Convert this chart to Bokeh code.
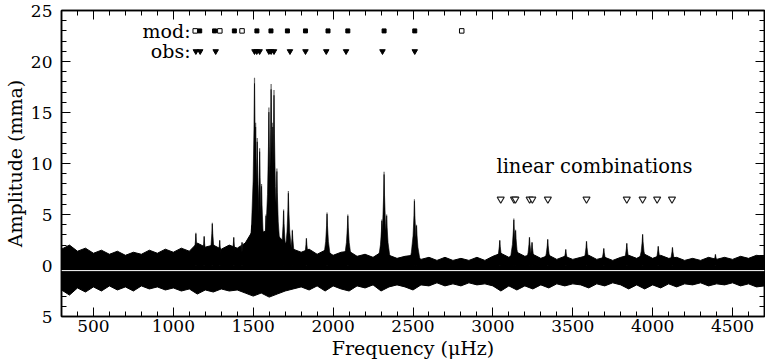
from bokeh.plotting import figure
from bokeh.models import (Range1d, LinearAxis, SingleIntervalTicker, Label, Span,
                          CustomJSTickFormatter)
from bokeh.embed import file_html
from bokeh.resources import INLINE

# ---------------- data ----------------
freq_grid = list(range(300, 4701, 50))
noise_top = [1.6, 2.0, 1.4, 1.7, 1.2, 1.5, 1.1, 1.4, 1.0, 1.3, 1.1, 1.5, 1.2, 1.6,
             1.3, 1.7, 1.4, 2.2, 1.8, 2.0, 1.6, 2.0, 1.7, 2.2, 3.5, 3.2, 3.5, 3.0, 2.2, 1.6, 1.3, 1.6, 1.1, 1.5,
             1.0, 1.3, 1.4, 0.9, 1.1, 0.8, 1.3, 1.0, 0.7, 0.9, 1.0, 0.6, 0.8, 0.5, 0.8, 0.5, 0.7, 0.5, 0.8, 0.5,
             0.9, 1.2, 0.8, 1.3, 0.9, 1.1, 0.7, 1.0, 0.6, 0.9, 0.6, 0.8, 1.0, 0.6, 0.8, 0.5, 0.8, 1.0, 0.7, 1.1,
             0.7, 1.0, 0.7, 0.8, 0.5, 0.7, 0.5, 0.8, 0.6, 0.8, 0.6, 0.9, 0.7, 1.0, 0.9]
noise_bottom = [-2.4, -2.9, -2.2, -2.6, -2.1, -2.5, -2.0, -2.4, -2.1, -2.5, -2.0, -2.3, -2.1, -2.4,
                -2.2, -2.5, -2.3, -2.8, -2.4, -2.6, -2.3, -2.5, -2.4, -2.7, -3.0, -2.7, -3.1, -2.8, -2.5, -2.3, -2.1, -2.4, -2.0, -2.5,
                -2.0, -2.3, -2.5, -2.0, -2.2, -1.9, -2.5, -2.1, -1.9, -2.1, -2.4, -1.9, -2.0, -1.7, -2.0, -1.8, -2.0, -1.7, -1.9, -1.8,
                -2.0, -2.5, -2.0, -2.4, -2.0, -2.3, -1.9, -2.2, -1.8, -2.0, -1.8, -1.9, -2.2, -1.8, -2.0, -1.7, -1.9, -2.3, -1.9, -2.3,
                -1.9, -2.2, -1.8, -2.1, -1.8, -1.9, -1.7, -2.0, -1.8, -1.9, -1.7, -2.0, -1.8, -2.1, -2.0]
baseline_level = -0.5

peak_freq = [1141, 1193, 1244, 1290, 1378, 1430, 1490, 1508, 1515, 1525, 1540, 1552, 1580,
             1598, 1612, 1622, 1630, 1648, 1690, 1720, 1745, 1833, 1962, 2092, 2305, 2319,
             2335, 2509, 2522, 3043, 3131, 3142, 3229, 3245, 3343, 3456, 3586, 3694, 3838,
             3937, 4035, 4124, 4393]
peak_amp = [3.2, 2.9, 4.2, 2.5, 2.8, 2.3, 4.0, 18.4, 14.0, 12.5, 11.5, 8.0, 5.0,
            15.5, 17.8, 14.0, 17.2, 9.5, 5.5, 7.3, 3.5, 2.7, 5.2, 5.0, 4.5, 9.2,
            5.0, 6.5, 4.0, 2.5, 4.6, 3.5, 2.8, 2.3, 2.6, 1.6, 2.4, 1.7, 2.2,
            3.1, 1.9, 1.8, 1.1]

mod_filled = [1165, 1258, 1382, 1523, 1611, 1714, 1827, 1968, 2092, 2319, 2511]
mod_open = [1137, 1291, 1430, 2805]
obs_freq = [1141, 1168, 1265, 1508, 1522, 1540, 1598, 1612, 1630, 1730, 1827, 1957,
            2081, 2309, 2511]
lincomb_freq = [3049, 3132, 3141, 3230, 3247, 3344, 3586, 3838, 3937, 4028, 4121]
mod_level = 23.0
obs_level = 21.0
lincomb_level = 6.5

x_tick_labels = {500: "500", 1000: "1000", 1500: "1500", 2000: "2000", 2500: "2500",
                 3000: "3000", 3500: "3500", 4000: "4000", 4500: "4500"}
y_tick_labels = {-5: "5", 0: "0", 5: "5", 10: "10", 15: "15", 20: "20", 25: "25"}

assert len(noise_top) == len(freq_grid) == len(noise_bottom)

# ---------------- styling ----------------
FONT = "DejaVu Serif"
HALF_W = 35.0  # half width of a peak base, in µHz

p = figure(width=765, height=363, x_range=Range1d(300, 4700), y_range=Range1d(-5, 25),
           output_backend="svg", toolbar_location=None,
           min_border_left=55, min_border_right=1, min_border_top=10, min_border_bottom=47)
p.xgrid.visible = False
p.ygrid.visible = False
p.outline_line_color = "black"
p.outline_line_width = 1.5
p.background_fill_color = "white"
p.border_fill_color = "white"

# noise band
p.varea(x=freq_grid, y1=noise_bottom, y2=noise_top, fill_color="black")
p.line(freq_grid, noise_top, line_color="black", line_width=1)
p.line(freq_grid, noise_bottom, line_color="black", line_width=1)

# grey spike tips, then black peak bodies over them
p.segment(x0=peak_freq, y0=[0] * len(peak_freq), x1=peak_freq, y1=peak_amp,
          line_color="#666666", line_width=1.2)
xs, ys = [], []
for f, a in zip(peak_freq, peak_amp):
    xs.append([f - HALF_W, f - 0.55 * HALF_W, f - 0.25 * HALF_W, f - 0.08 * HALF_W, f,
               f + 0.08 * HALF_W, f + 0.25 * HALF_W, f + 0.55 * HALF_W, f + HALF_W])
    ys.append([0, 0.2 * a, 0.45 * a, 0.75 * a, 0.97 * a, 0.75 * a, 0.45 * a, 0.2 * a, 0])
p.patches(xs, ys, fill_color="black", line_color="black", line_width=0.6)

# separator line between the two spectra
p.add_layout(Span(location=baseline_level, dimension="width", line_color="white", line_width=1))

# markers
p.scatter(mod_filled, [mod_level] * len(mod_filled), marker="square", size=4,
          fill_color="black", line_color="black")
p.scatter(mod_open, [mod_level] * len(mod_open), marker="square", size=4.5,
          fill_color="white", line_color="black", line_width=1)
p.scatter(obs_freq, [obs_level] * len(obs_freq), marker="inverted_triangle", size=5.5,
          fill_color="black", line_color="black")
p.scatter(lincomb_freq, [lincomb_level] * len(lincomb_freq), marker="inverted_triangle",
          size=7, fill_color="white", line_color="#222222", line_width=1.2)

for txt, lvl in (("mod:", mod_level), ("obs:", obs_level)):
    p.add_layout(Label(x=1108, y=lvl, text=txt, text_align="right", text_baseline="middle",
                       text_font=FONT, text_font_size="19px", text_color="black"))
p.add_layout(Label(x=3022, y=9.7, text="linear combinations", text_align="left",
                   text_baseline="middle", text_font=FONT, text_font_size="19.5px",
                   text_color="black"))

# axes
p.add_layout(LinearAxis(), "above")
p.add_layout(LinearAxis(), "right")
for ax in p.xaxis:
    ax.ticker = SingleIntervalTicker(interval=500, num_minor_ticks=5)
for ax in p.yaxis:
    ax.ticker = SingleIntervalTicker(interval=5, num_minor_ticks=5)
for ax in list(p.xaxis) + list(p.yaxis):
    ax.axis_line_color = "black"
    ax.axis_line_width = 1.5
    ax.major_tick_in = 9
    ax.major_tick_out = 0
    ax.minor_tick_in = 5
    ax.minor_tick_out = 0
    ax.major_tick_line_color = "black"
    ax.minor_tick_line_color = "black"
    ax.major_label_text_font = FONT
    ax.major_label_text_color = "black"
    ax.axis_label_text_font = FONT
    ax.axis_label_text_font_style = "normal"
    ax.axis_label_text_color = "black"

bottom = p.below[0]
bottom.major_label_overrides = x_tick_labels
bottom.major_label_text_font_size = "17px"
bottom.major_label_standoff = 3
bottom.axis_label = "Frequency (\u03bcHz)"
bottom.axis_label_text_font_size = "19px"
bottom.axis_label_standoff = 2

left = p.left[0]
left.major_label_overrides = y_tick_labels
left.major_label_text_font_size = "17px"
left.major_label_standoff = 9
left.axis_label = "Amplitude (mma)"
left.axis_label_text_font_size = "19px"
left.axis_label_standoff = 2

for ax in (p.above[0], p.right[0]):
    ax.formatter = CustomJSTickFormatter(code="return '';")
    ax.major_label_standoff = 0
    ax.axis_label = None

open("out.html", "w").write(file_html(p, INLINE))
